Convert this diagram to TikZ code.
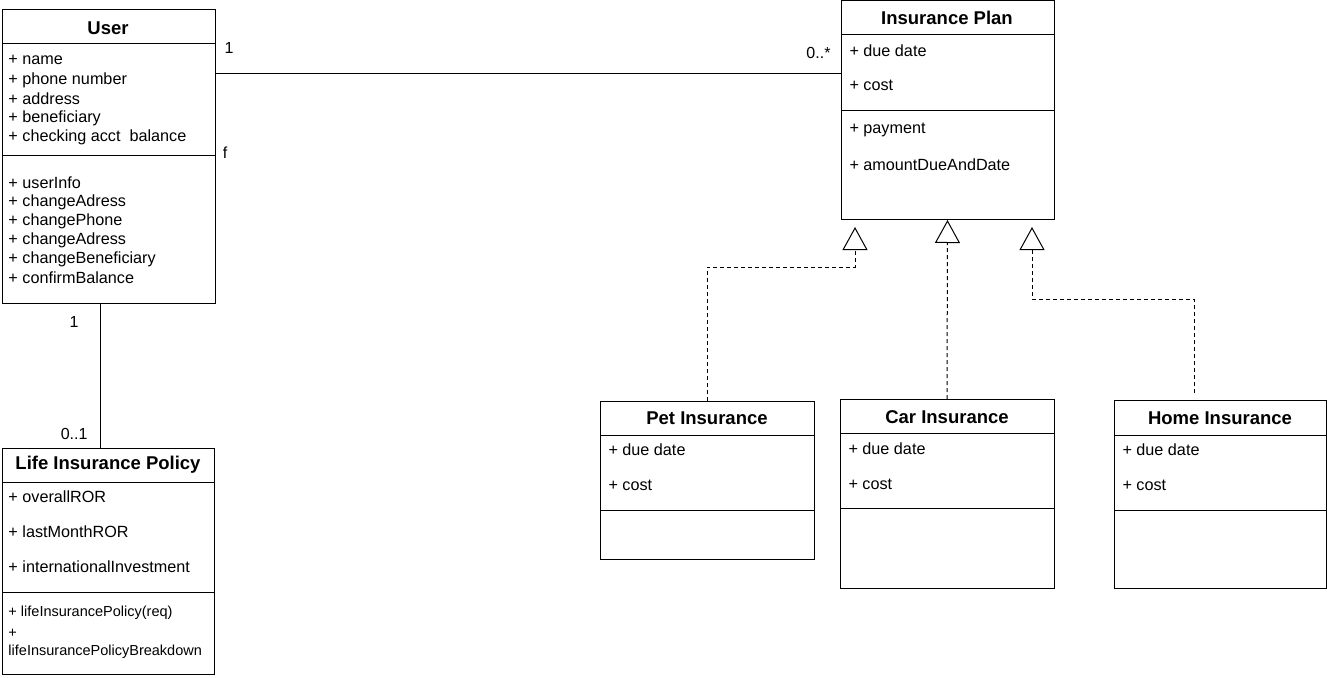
\documentclass[tikz,border=0pt]{standalone}
\usepackage{fontspec}
\setmainfont{Liberation Sans}
\usetikzlibrary{arrows.meta}
\begin{document}
\begin{tikzpicture}[x=1pt,y=-1pt, line width=1pt,
 cls/.style={draw, anchor=north west, inner sep=0pt, outer sep=0pt},
 attr/.style={anchor=west, inner sep=0pt, font=\fontsize{16.2}{19}\selectfont},
 head/.style={inner sep=0pt, font=\bfseries\fontsize{18.5}{21}\selectfont},
 mult/.style={inner sep=0pt, font=\fontsize{16}{19}\selectfont},
 smallattr/.style={anchor=west, inner sep=0pt, font=\fontsize{14.5}{17}\selectfont},
 real/.style={dash pattern=on 4pt off 3pt, -{Triangle[open, length=23pt, width=25pt]}}
]
\useasboundingbox (0,0) rectangle (1327,677);

% ---------- User ----------
\node[cls, minimum width=213pt, minimum height=293pt] (user) at (2,10) {};
\draw (user.west |- 0,44) -- (user.east |- 0,44);
\draw (user.west |- 0,155) -- (user.east |- 0,155);
\node[head] (userT) at (108,28) {User};
\node[attr] (ua1) at (8,60) {+ name};
\node[attr] (ua2) at (8,80) {+ phone number};
\node[attr] (ua3) at (8,99) {+ address};
\node[attr] (ua4) at (8,118) {+ beneficiary};
\node[attr] (ua5) at (8,137) {+ checking acct\ \ balance};
\node[attr] (um1) at (8,183) {+ userInfo};
\node[attr] (um2) at (8,202) {+ changeAdress};
\node[attr] (um3) at (8,221) {+ changePhone};
\node[attr] (um4) at (8,240) {+ changeAdress};
\node[attr] (um5) at (8,259) {+ changeBeneficiary};
\node[attr] (um6) at (8,278) {+ confirmBalance};

% ---------- Insurance Plan ----------
\node[cls, minimum width=213pt, minimum height=218pt] (plan) at (841,1) {};
\draw (plan.west |- 0,35) -- (plan.east |- 0,35);
\draw (plan.west |- 0,110) -- (plan.east |- 0,110);
\node[head] (planT) at (947,18) {Insurance Plan};
\node[attr] (pa1) at (849,51) {+ due date};
\node[attr] (pa2) at (849,85) {+ cost};
\node[attr] (pm1) at (849,130) {+ payment};
\node[attr] (pm2) at (849,165) {+ amountDueAndDate};

% ---------- Life Insurance Policy ----------
\node[cls, minimum width=212pt, minimum height=226pt] (life) at (2,448) {};
\draw (life.west |- 0,482) -- (life.east |- 0,482);
\draw (life.west |- 0,592) -- (life.east |- 0,592);
\node[head] (lifeT) at (108,465) {Life Insurance Policy};
\node[attr] (la1) at (8,497) {+ overallROR};
\node[attr] (la2) at (8,532) {+ lastMonthROR};
\node[attr] (la3) at (8,567) {+ internationalInvestment};
\node[smallattr] (lm1) at (8,613) {+ lifeInsurancePolicy(req)};
\node[smallattr] (lm2) at (8,633) {+};
\node[smallattr] (lm3) at (8,652) {lifeInsurancePolicyBreakdown};

% ---------- Pet Insurance ----------
\node[cls, minimum width=214pt, minimum height=158pt] (pet) at (600,401) {};
\draw (pet.west |- 0,435) -- (pet.east |- 0,435);
\draw (pet.west |- 0,510) -- (pet.east |- 0,510);
\node[head] (petT) at (707,418) {Pet Insurance};
\node[attr] (peta1) at (608,450) {+ due date};
\node[attr] (peta2) at (608,485) {+ cost};

% ---------- Car Insurance ----------
\node[cls, minimum width=214pt, minimum height=189pt] (car) at (840,399) {};
\draw (car.west |- 0,433) -- (car.east |- 0,433);
\draw (car.west |- 0,508) -- (car.east |- 0,508);
\node[head] (carT) at (947,417) {Car Insurance};
\node[attr] (cara1) at (848,449) {+ due date};
\node[attr] (cara2) at (848,484) {+ cost};

% ---------- Home Insurance ----------
\node[cls, minimum width=212pt, minimum height=188pt] (home) at (1114,400) {};
\draw (home.west |- 0,435) -- (home.east |- 0,435);
\draw (home.west |- 0,510) -- (home.east |- 0,510);
\node[head] (homeT) at (1220,418) {Home Insurance};
\node[attr] (homea1) at (1122,450) {+ due date};
\node[attr] (homea2) at (1122,485) {+ cost};

% ---------- Associations ----------
\draw (user.east |- 0,73) -- (plan.west |- 0,73);
\node[mult] (m1) at (229,48) {1};
\node[mult] (mf) at (225,153) {f};
\node[mult, anchor=east] (m2) at (831,53) {0..*};

\draw (user.south -| 100,0) -- (life.north -| 100,0);
\node[mult] (m3) at (74,322) {1};
\node[mult, anchor=east] (m4) at (88,434) {0..1};

% ---------- Realizations ----------
\path (plan.south west) ++(14,0) coordinate (pl);
\path (plan.south west) ++(191,0) coordinate (pr);
\path (home.north west) ++(80,0) coordinate (hr);
\draw[real, shorten >=8pt] (pet.north) |- (855,267) -- (pl);
\draw[real, shorten >=1pt] (car.north) -- (plan.south);
\draw[real, shorten >=8pt, shorten <=7pt] (hr) |- (1032,299) -- (pr);
\end{tikzpicture}
\end{document}
